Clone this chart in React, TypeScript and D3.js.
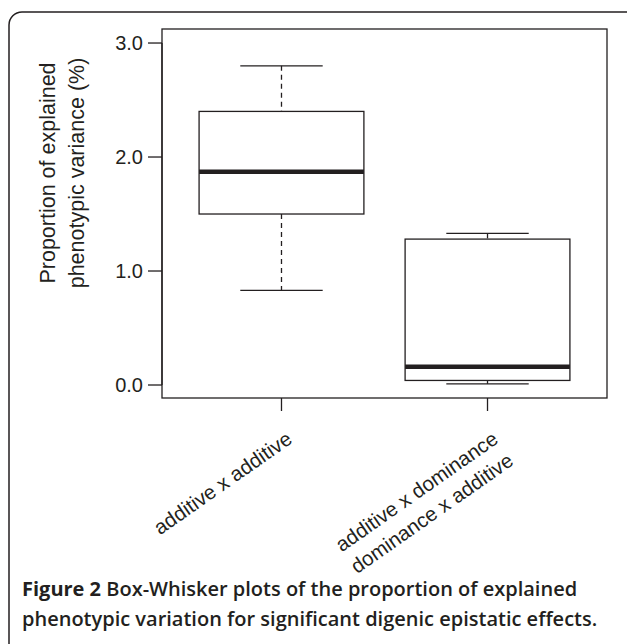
import React from 'react';
import * as d3 from 'd3';

// box-whisker summary per category
const categories = ['additive x additive', 'additive x dominance\ndominance x additive'];
const whiskerLow = [0.83, 0.01];
const quartile1 = [1.5, 0.04];
const medians = [1.87, 0.16];
const quartile3 = [2.4, 1.28];
const whiskerHigh = [2.8, 1.33];
const yTicks = [0, 1, 2, 3];
const yTitle = ['Proportion of explained', 'phenotypic variance (%)'];
const captionBold = 'Figure 2';
const captionRest = ' Box-Whisker plots of the proportion of explained';
const captionLine2 = 'phenotypic variation for significant digenic epistatic effects.';

const W = 627;
const H = 644;
const plot = { left: 162, right: 607, top: 29, bottom: 398 };
const ink = '#231f20';
const font = 'Liberation Sans, Arial, Helvetica, sans-serif';

const App: React.FC = () => {
  const x = d3.scaleLinear().domain([0.42, 2.58]).range([plot.left, plot.right]);
  const y = d3.scaleLinear().domain([-0.114, 3.123]).range([plot.bottom, plot.top]);
  const boxHalf = 0.4;
  const capHalf = 0.2;

  return (
    <svg
      width={W}
      height={H}
      style={{ position: 'absolute', left: 0, top: 0, background: '#fff' }}
    >
      {/* outer figure frame */}
      <rect x={9} y={12} width={W + 20} height={H + 20} rx={13} ry={13}
        fill="none" stroke={ink} strokeWidth={1.5} />

      {/* plot frame */}
      <rect x={plot.left} y={plot.top} width={plot.right - plot.left} height={plot.bottom - plot.top}
        fill="none" stroke={ink} strokeWidth={1.3} />

      {/* y axis */}
      <line x1={plot.left} x2={plot.left} y1={y(0)} y2={y(3)} stroke={ink} strokeWidth={1.3} />
      {yTicks.map(t => (
        <g key={t}>
          <line x1={plot.left - 14} x2={plot.left} y1={y(t)} y2={y(t)} stroke={ink} strokeWidth={1.3} />
          <text x={plot.left - 19} y={y(t)} dy="0.36em" textAnchor="end"
            fontFamily={font} fontSize={20} fill={ink}>{t.toFixed(1)}</text>
        </g>
      ))}
      <text transform="translate(0,173) rotate(-90)" textAnchor="middle"
        fontFamily={font} fontSize={21.5} fill={ink}>
        <tspan x={0} y={55}>{yTitle[0]}</tspan>
        <tspan x={0} y={84}>{yTitle[1]}</tspan>
      </text>

      {/* x axis ticks and rotated labels */}
      {categories.map((c, i) => {
        const cx = x(i + 1);
        const lines = c.split('\n');
        return (
          <g key={c}>
            <line x1={cx} x2={cx} y1={plot.bottom} y2={plot.bottom + 13} stroke={ink} strokeWidth={1.3} />
            <text transform={`translate(${cx + 12},${442}) rotate(-35)`} textAnchor="end"
              fontFamily={font} fontSize={20.5} fill={ink}>
              {lines.map((l, k) => (
                <tspan key={k} x={k * 0} y={k * 26.6} dx={0}>{l}</tspan>
              ))}
            </text>
          </g>
        );
      })}

      {/* boxes */}
      {categories.map((c, i) => {
        const cx = x(i + 1);
        const bl = x(i + 1 - boxHalf);
        const br = x(i + 1 + boxHalf);
        const cl = x(i + 1 - capHalf);
        const cr = x(i + 1 + capHalf);
        return (
          <g key={'b' + i} stroke={ink}>
            <line x1={cx} x2={cx} y1={y(whiskerHigh[i])} y2={y(quartile3[i])} strokeWidth={1.3} strokeDasharray="5,4" />
            <line x1={cx} x2={cx} y1={y(quartile1[i])} y2={y(whiskerLow[i])} strokeWidth={1.3} strokeDasharray="5,4" />
            <line x1={cl} x2={cr} y1={y(whiskerHigh[i])} y2={y(whiskerHigh[i])} strokeWidth={1.3} />
            <line x1={cl} x2={cr} y1={y(whiskerLow[i])} y2={y(whiskerLow[i])} strokeWidth={1.3} />
            <rect x={bl} y={y(quartile3[i])} width={br - bl} height={y(quartile1[i]) - y(quartile3[i])}
              fill="#fff" strokeWidth={1.3} />
            <line x1={bl} x2={br} y1={y(medians[i])} y2={y(medians[i])} strokeWidth={4.5} />
          </g>
        );
      })}

      {/* caption */}
      <text x={22} y={596} fontFamily="Open Sans, sans-serif" fontSize={20} fill={ink} fontWeight={600}>
        <tspan fontWeight={700}>{captionBold}</tspan>
        <tspan>{captionRest}</tspan>
      </text>
      <text x={22} y={626} fontFamily="Open Sans, sans-serif" fontSize={20} fill={ink} fontWeight={600}>
        {captionLine2}
      </text>
    </svg>
  );
};

export default App;
